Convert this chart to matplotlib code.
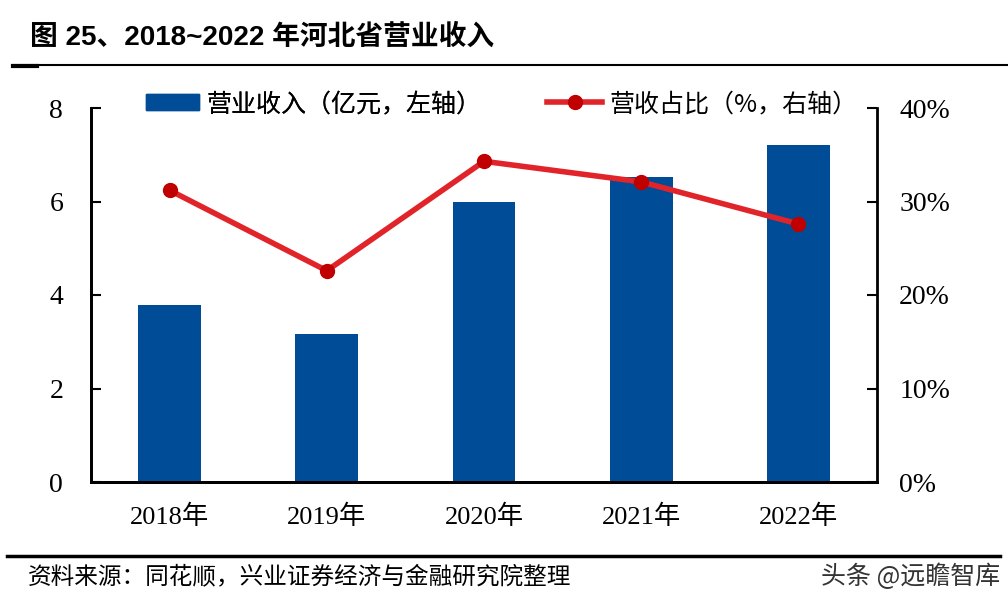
import matplotlib
matplotlib.use("Agg")
import matplotlib.pyplot as plt
from matplotlib.lines import Line2D
import numpy as np

years = ["2018年", "2019年", "2020年", "2021年", "2022年"]
revenue = [3.79, 3.17, 5.99, 6.52, 7.21]          # 亿元, left axis
share = [31.2, 22.6, 34.3, 32.1, 27.6]           # %, right axis
left_ticks = [0, 2, 4, 6, 8]
right_ticks = [0, 10, 20, 30, 40]

cjk = ["Noto Sans CJK SC", "DejaVu Sans"]
serif = ["Liberation Serif", "Noto Sans CJK SC"]

bar_color = "#004C97"
line_color = "#E0242A"
marker_color = "#C00000"

fig = plt.figure(figsize=(10.08, 6.10), dpi=100)
ax = fig.add_axes([91/1008, 1-482/610, (877-91)/1008, (482-108)/610])
ax2 = ax.twinx()

x = np.arange(len(years))
ax.bar(x, revenue, width=0.4, color=bar_color, zorder=2)
ax.set_xlim(-0.5, len(years)-0.5)
ax.set_ylim(0, 8)
ax.set_yticks(left_ticks)
ax.set_yticklabels([str(t) for t in left_ticks], fontsize=20, family=serif)
ax.set_xticks(x)
ax.set_xticklabels(years, fontsize=19, family=serif)
ax.tick_params(axis="x", length=0, pad=16)
ax.tick_params(axis="y", direction="in", length=7, width=1.5, pad=20)

ax2.plot(x, share, color=line_color, lw=4, marker="o", ms=10,
         markerfacecolor=marker_color, markeredgecolor=marker_color, zorder=3)
ax2.set_ylim(0, 40)
ax2.set_yticks(right_ticks)
ax2.set_yticklabels([f"{t}%" for t in right_ticks], fontsize=20, family=serif)
ax2.tick_params(axis="y", direction="in", length=7, width=1.5, pad=16)

for a in (ax, ax2):
    a.spines["top"].set_visible(False)
    for s in ("left", "right", "bottom"):
        a.spines[s].set_linewidth(2)
ax.spines["right"].set_visible(False)

h1 = plt.Rectangle((0, 0), 1, 1, color=bar_color)
h2 = Line2D([], [], color=line_color, lw=4, marker="o", ms=10,
            markerfacecolor=marker_color, markeredgecolor=marker_color)
leg1 = fig.legend([h1], ["营业收入（亿元，左轴）"],
                  loc="center left", bbox_to_anchor=(146/1008, 1-104/610),
                  frameon=False, prop={"family": cjk, "size": 18},
                  handlelength=2.1, handleheight=0.6,
                  handletextpad=0.3, borderaxespad=0, borderpad=0)
leg2 = fig.legend([h2], ["营收占比（%，右轴）"],
                  loc="center left", bbox_to_anchor=(547/1008, 1-104/610),
                  frameon=False, prop={"family": cjk, "size": 18},
                  handlelength=2.2, handletextpad=0.3, borderaxespad=0, borderpad=0)
fig.add_artist(leg1)

# title
fig.text(30/1008, 1-38/610, "图 25、2018~2022 年河北省营业收入", fontsize=20,
         fontweight="bold", family=["Liberation Sans", "Noto Sans CJK SC"], va="center", ha="left")
fig.add_artist(Line2D([13/1008, 1.0], [1-65/610, 1-65/610], color="black", lw=1.5))
fig.add_artist(Line2D([13/1008, 37/1008], [1-66/610, 1-66/610], color="black", lw=3))

# footer
fig.add_artist(Line2D([7/1008, 1000/1008], [1-556/610, 1-556/610], color="black", lw=2.5))
fig.text(28/1008, 1-577/610, "资料来源：同花顺，兴业证券经济与金融研究院整理", fontsize=17,
         family=cjk, va="center", ha="left")
fig.text(1000/1008, 1-577/610, "头条 @远瞻智库", fontsize=18, family=cjk,
         va="center", ha="right", color="#333333")

fig.savefig("out.png", dpi=100)
